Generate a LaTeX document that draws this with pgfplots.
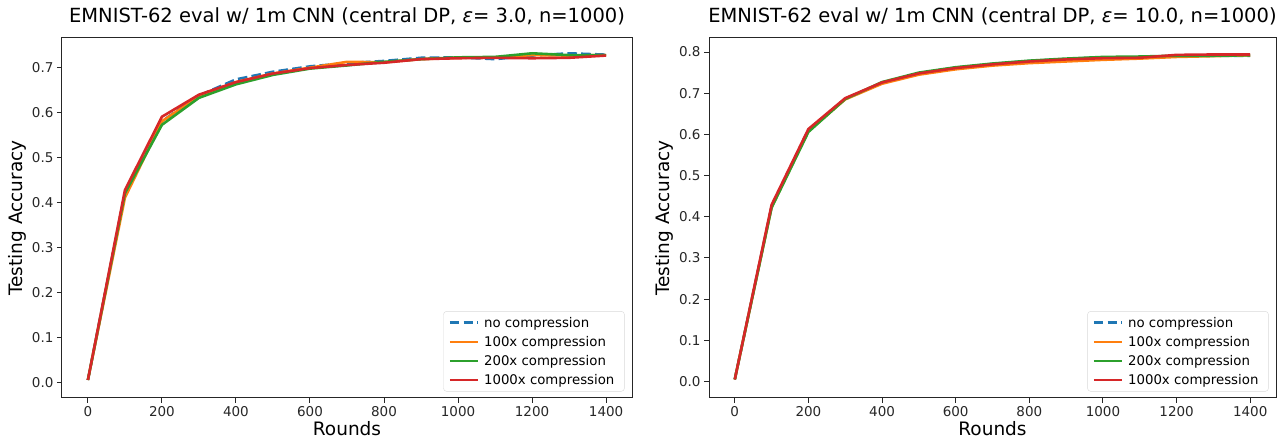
\documentclass[border=0pt]{standalone}
\usepackage{pgfplots}
\pgfplotsset{compat=1.18}
\usepackage{fontspec}
\setmainfont{DejaVu Sans}
\definecolor{tblue}{HTML}{1F77B4}
\definecolor{torange}{HTML}{FF7F0E}
\definecolor{tgreen}{HTML}{2CA02C}
\definecolor{tred}{HTML}{D62728}
\definecolor{axgray}{HTML}{262626}
\pgfplotstableread{
r blue orange green red
0 0.005 0.005 0.005 0.005
100 0.420 0.410 0.420 0.427
200 0.580 0.580 0.572 0.590
300 0.637 0.635 0.632 0.639
400 0.673 0.667 0.662 0.667
500 0.690 0.686 0.683 0.686
600 0.702 0.699 0.697 0.698
700 0.709 0.712 0.704 0.705
800 0.714 0.711 0.712 0.710
900 0.721 0.718 0.718 0.718
1000 0.722 0.721 0.722 0.720
1100 0.718 0.722 0.723 0.721
1200 0.726 0.727 0.731 0.720
1300 0.731 0.726 0.727 0.721
1400 0.728 0.727 0.727 0.726
}\left
\pgfplotstableread{
r blue orange green red
0 0.005 0.005 0.005 0.005
100 0.425 0.423 0.422 0.429
200 0.611 0.608 0.606 0.613
300 0.686 0.685 0.686 0.688
400 0.725 0.723 0.727 0.726
500 0.748 0.745 0.750 0.748
600 0.762 0.758 0.763 0.761
700 0.771 0.767 0.772 0.770
800 0.778 0.773 0.779 0.777
900 0.783 0.777 0.784 0.782
1000 0.787 0.781 0.788 0.785
1100 0.787 0.784 0.789 0.786
1200 0.790 0.788 0.791 0.793
1300 0.791 0.790 0.791 0.794
1400 0.791 0.792 0.792 0.794
}\right
\pgfplotsset{
  myaxis/.style={
    scale only axis,
    height=360pt,
    axis line style={axgray, line width=1pt},
    tick style={axgray, line width=1pt},
    tick align=outside,
    major tick length=5pt,
    xtick pos=bottom, ytick pos=left,
    xmin=-70, xmax=1470,
    xtick={0,200,...,1400},
    tick label style={font=\fontsize{13.5}{16}\selectfont, text=axgray},
    /pgf/number format/assume math mode=true,
    /pgf/number format/set thousands separator={},
    yticklabel style={/pgf/number format/fixed, /pgf/number format/fixed zerofill, /pgf/number format/precision=1},
    xlabel={Rounds}, ylabel={Testing Accuracy},
    label style={font=\fontsize{18.5}{21}\selectfont, text=black},
    xlabel style={yshift=2pt},
    ylabel style={yshift=-1pt},
    title style={font=\fontsize{19.5}{22}\selectfont, yshift=3pt},
    legend cell align=left,
    legend style={at={(0.987,0.018)}, anchor=south east, draw=black!15, rounded corners=3pt,
      font=\fontsize{13.3}{15}\selectfont, row sep=6.5pt, inner sep=5pt,
      nodes={inner xsep=5pt, inner ysep=0.5pt}},
    legend image code/.code={\draw[#1] (0pt,0pt) -- (28pt,0pt);},
    legend image post style={line width=2.6pt},
    every axis plot/.append style={line width=2.6pt, line join=round},
  },
}
\begin{document}
\begin{tikzpicture}
\path[use as bounding box] (-62pt,-46pt) rectangle (1216pt,398pt);
\begin{axis}[myaxis, at={(0pt,0pt)}, anchor=south west, width=570pt,
  ymin=-0.035, ymax=0.765, ytick={0,0.1,...,0.7},
  title={EMNIST-62 eval w/ 1m CNN (central DP, {\itshape ε}= 3.0, n=1000)}]
\addplot[tblue, dash pattern=on 9.6pt off 4.2pt] table[x=r,y=blue] {\left};
\addplot[torange] table[x=r,y=orange] {\left};
\addplot[tgreen] table[x=r,y=green] {\left};
\addplot[tred] table[x=r,y=red] {\left};
\legend{no compression,100x compression,200x compression,1000x compression}
\end{axis}
\begin{axis}[myaxis, at={(647pt,0pt)}, anchor=south west, width=567pt,
  ymin=-0.040, ymax=0.834, ytick={0,0.1,...,0.8},
  title={EMNIST-62 eval w/ 1m CNN (central DP, {\itshape ε}= 10.0, n=1000)}]
\addplot[tblue, dash pattern=on 9.6pt off 4.2pt] table[x=r,y=blue] {\right};
\addplot[torange] table[x=r,y=orange] {\right};
\addplot[tgreen] table[x=r,y=green] {\right};
\addplot[tred] table[x=r,y=red] {\right};
\legend{no compression,100x compression,200x compression,1000x compression}
\end{axis}
\end{tikzpicture}
\end{document}
